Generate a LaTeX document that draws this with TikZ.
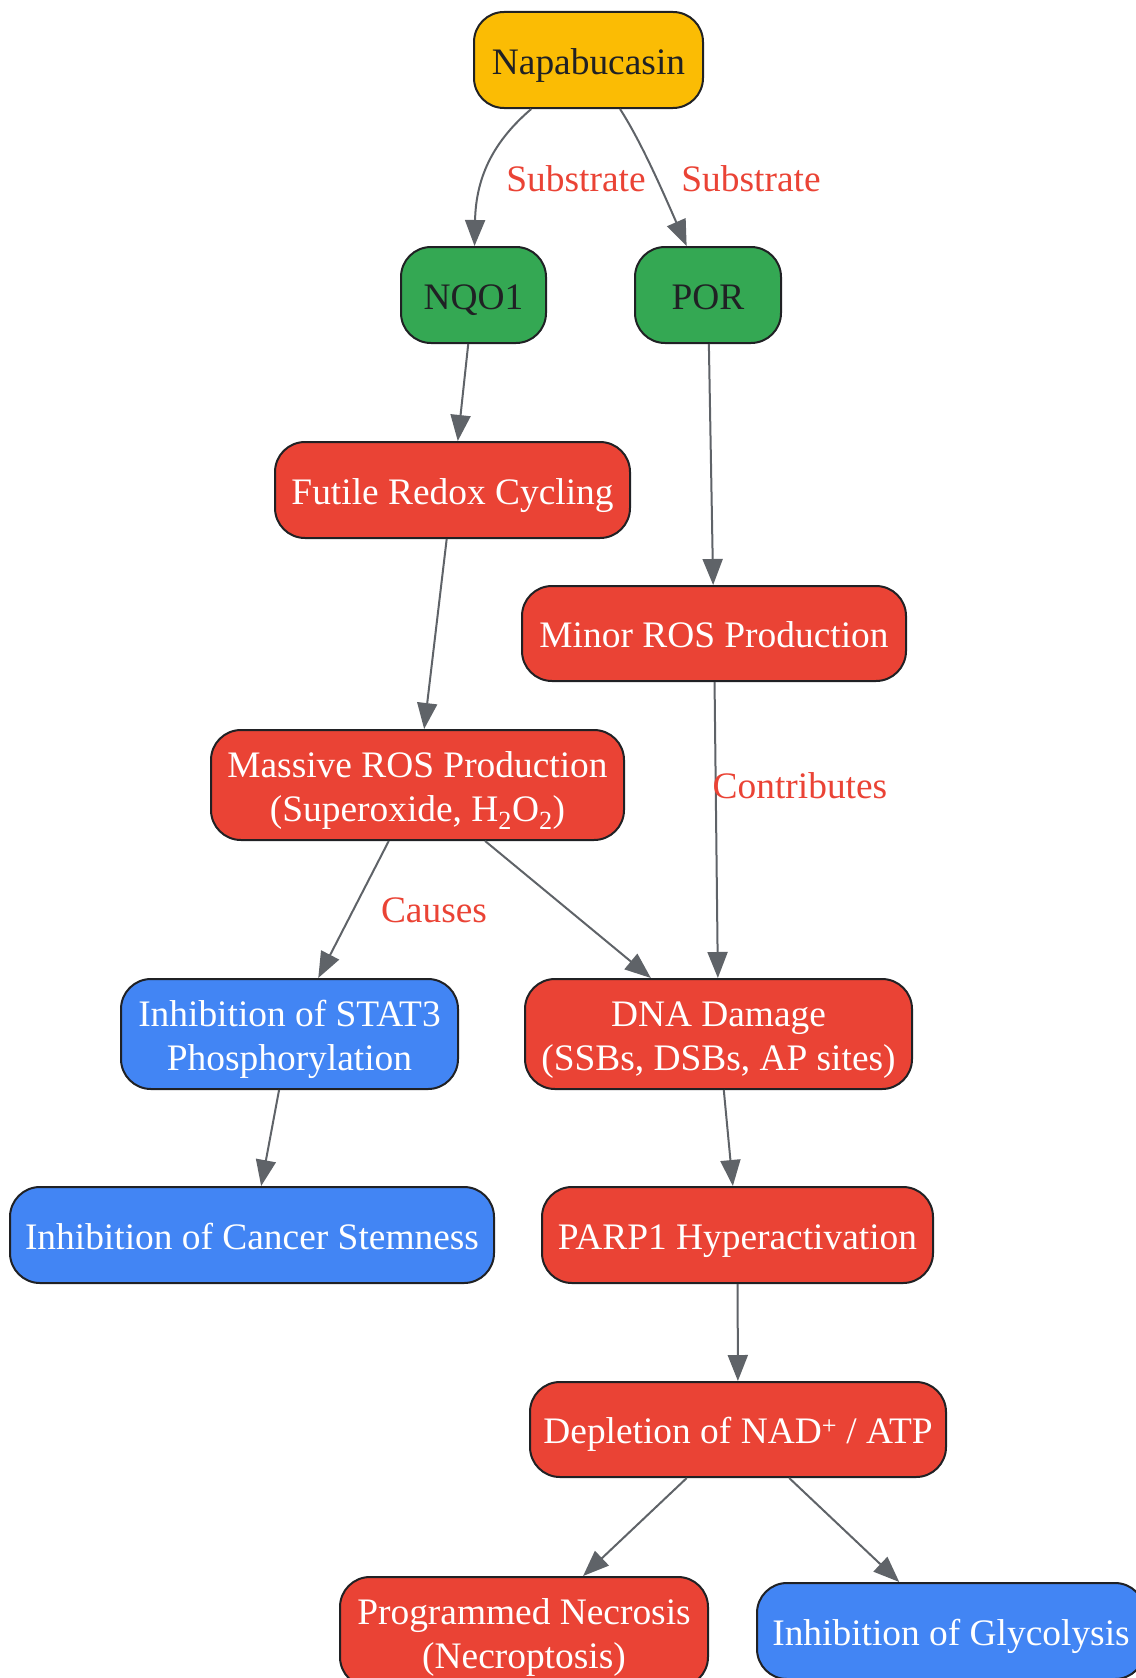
\documentclass[tikz,border=0pt]{standalone}
\usepackage{fontspec}
\setmainfont{Liberation Serif}
\usetikzlibrary{arrows.meta}
\definecolor{cyel}{HTML}{FBBC04}
\definecolor{cgreen}{HTML}{34A853}
\definecolor{cred}{HTML}{EA4335}
\definecolor{cblue}{HTML}{4285F4}
\definecolor{cborder}{HTML}{202124}
\definecolor{cedge}{HTML}{5F6368}
\begin{document}
\begin{tikzpicture}[x=1pt,y=-1pt,
  box/.style={draw=cborder, line width=2pt, rounded corners=30pt, inner sep=0pt, align=center, font=\fontsize{37.4}{44}\selectfont},
  one/.style={text height=28.5pt, text depth=0pt},
  two/.style={text height=72pt, text depth=0pt},
  ybox/.style={box, fill=cyel, text=cborder},
  gbox/.style={box, fill=cgreen, text=cborder},
  rbox/.style={box, fill=cred, text=white},
  bbox/.style={box, fill=cblue, text=white},
  conn/.style={draw=cedge, line width=2pt, -{Triangle[length=26pt,width=20pt]}},
  lbl/.style={text=cred, font=\fontsize{37.4}{44}\selectfont, inner sep=0pt}]
\useasboundingbox (0,0) rectangle (1135,1678);

\node[ybox, one, minimum width=229pt, minimum height=96pt] (nap) at (588.5,60) {Napabucasin};
\node[gbox, one, minimum width=145pt, minimum height=96pt] (nqo) at (473.5,295) {NQO1};
\node[gbox, one, minimum width=146pt, minimum height=96pt] (por) at (708,295) {POR};
\node[rbox, one, minimum width=355pt, minimum height=96pt] (futile) at (452.5,490) {Futile Redox Cycling};
\node[rbox, one, minimum width=384pt, minimum height=95pt] (minor) at (714,633.5) {Minor ROS Production};
\node[rbox, two, minimum width=413pt, minimum height=110pt] (massive) at (417.5,785) {Massive ROS Production\\(Superoxide, H\textsubscript{2}O\textsubscript{2})};
\node[bbox, two, minimum width=337pt, minimum height=110pt] (stat) at (289.5,1034) {Inhibition of STAT3\\Phosphorylation};
\node[rbox, two, minimum width=387pt, minimum height=110pt] (dna) at (718.5,1034) {DNA Damage\\(SSBs, DSBs, AP sites)};
\node[bbox, one, minimum width=484pt, minimum height=96pt] (stem) at (252,1235) {Inhibition of Cancer Stemness};
\node[rbox, one, minimum width=391pt, minimum height=96pt] (parp) at (737.5,1235) {PARP1 Hyperactivation};
\node[rbox, one, minimum width=416pt, minimum height=95pt] (depl) at (738,1429.5) {Depletion of NAD\textsuperscript{+} / ATP};
\node[rbox, two, minimum width=368pt, minimum height=110pt] (necro) at (524,1632) {Programmed Necrosis\\(Necroptosis)};
\node[bbox, one, minimum width=388pt, minimum height=96pt] (glyc) at (951,1631) {Inhibition of Glycolysis};

\draw[conn] (nap) .. controls (495,140) and (476,175) .. (nqo);
\draw[conn] (nap) .. controls (640,140) and (660,185) .. (por);
\draw[conn] (nqo) -- (futile);
\draw[conn] (por) -- (minor);
\draw[conn] (futile) -- (massive);
\draw[conn] (minor) -- (dna);
\draw[conn] (massive) -- (stat);
\draw[conn] (massive) -- (dna);
\draw[conn] (stat) -- (stem);
\draw[conn] (dna) -- (parp);
\draw[conn] (parp) -- (depl);
\draw[conn] (depl) -- (necro);
\draw[conn] (depl) -- (glyc);

\node[lbl] (l1) at (576,179) {Substrate};
\node[lbl] (l2) at (751,179) {Substrate};
\node[lbl] (l3) at (800,786) {Contributes};
\node[lbl] (l4) at (434,910) {Causes};
\end{tikzpicture}
\end{document}
